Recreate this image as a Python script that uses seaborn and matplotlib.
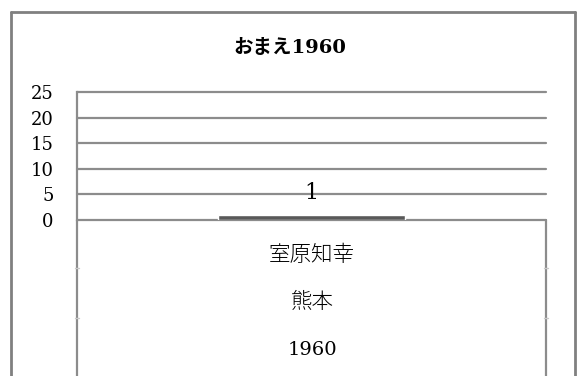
import matplotlib
matplotlib.use("Agg")
import matplotlib.pyplot as plt
import seaborn as sns
import pandas as pd
from matplotlib.lines import Line2D

# data
names = ["室原知幸"]
places = ["熊本"]
years = ["1960"]
counts = [1]
y_ticks = [0, 5, 10, 15, 20, 25]
title = "おまえ1960"

df = pd.DataFrame({"name": names, "count": counts})

sns.set_style("white")
plt.rcParams['font.family'] = ['DejaVu Serif', 'Noto Sans CJK JP']
plt.rcParams['text.color'] = 'black'
plt.rcParams['ytick.color'] = 'black'

W, H = 583, 376
fig = plt.figure(figsize=(W / 100, H / 100), dpi=100)

def fx(px):
    return px / W

def fy(py):
    return 1 - py / H

left, right, top, bottom = 77, 546, 92, 220
ax = fig.add_axes([fx(left), fy(bottom), fx(right - left), (bottom - top) / H])

sns.barplot(data=df, x="name", y="count", color="#595959", width=0.4, ax=ax,
            saturation=1, zorder=3)

ax.set_ylim(0, 25)
ax.set_xlim(-0.5, 0.5)
ax.set_yticks(y_ticks)
ax.set_yticklabels([str(t) for t in y_ticks], fontsize=13)
ax.tick_params(axis="y", length=0, pad=17, labelcolor="black")
ax.set_xticks([])
ax.set_xlabel("")
ax.set_ylabel("")
gray = "#8c8c8c"
for t in y_ticks:
    ax.axhline(t, color=gray, lw=1.6, zorder=1, clip_on=False)
for s in ["top", "right", "bottom"]:
    ax.spines[s].set_visible(False)
ax.spines["left"].set_color(gray)
ax.spines["left"].set_linewidth(1.6)

# bar value label
for i, v in enumerate(counts):
    ax.text(i, 5.3, str(v), ha="center", va="center", fontsize=16, zorder=4)

# multi-level category labels
fig.add_artist(Line2D([fx(left), fx(left)], [fy(bottom), 0], color=gray, lw=1.6))
fig.add_artist(Line2D([fx(right), fx(right)], [fy(bottom), 0], color=gray, lw=1.6))
for py in [268, 318]:
    fig.add_artist(Line2D([fx(left - 2), fx(left + 2)], [fy(py), fy(py)], color="#c8c8c8", lw=1))
    fig.add_artist(Line2D([fx(right - 2), fx(right + 2)], [fy(py), fy(py)], color="#c8c8c8", lw=1))

cx = fx(312)
fig.text(cx, fy(255), names[0], ha="center", va="center", fontsize=15.5,
         family=['Noto Sans CJK JP'], fontweight="light")
fig.text(cx, fy(302), places[0], ha="center", va="center", fontsize=15.5,
         family=['Noto Sans CJK JP'], fontweight="light")
fig.text(cx, fy(350), years[0], ha="center", va="center", fontsize=14)

# title
fig.text(fx(290), fy(48), title, ha="center", va="center", fontsize=14, fontweight="bold")

# outer frame
fig.add_artist(Line2D([fx(11), fx(11)], [0, fy(12)], color="#808080", lw=2))
fig.add_artist(Line2D([fx(11), fx(575)], [fy(12), fy(12)], color="#808080", lw=2))
fig.add_artist(Line2D([fx(575), fx(575)], [fy(12), 0], color="#808080", lw=2))

fig.savefig("out.png", dpi=100)
